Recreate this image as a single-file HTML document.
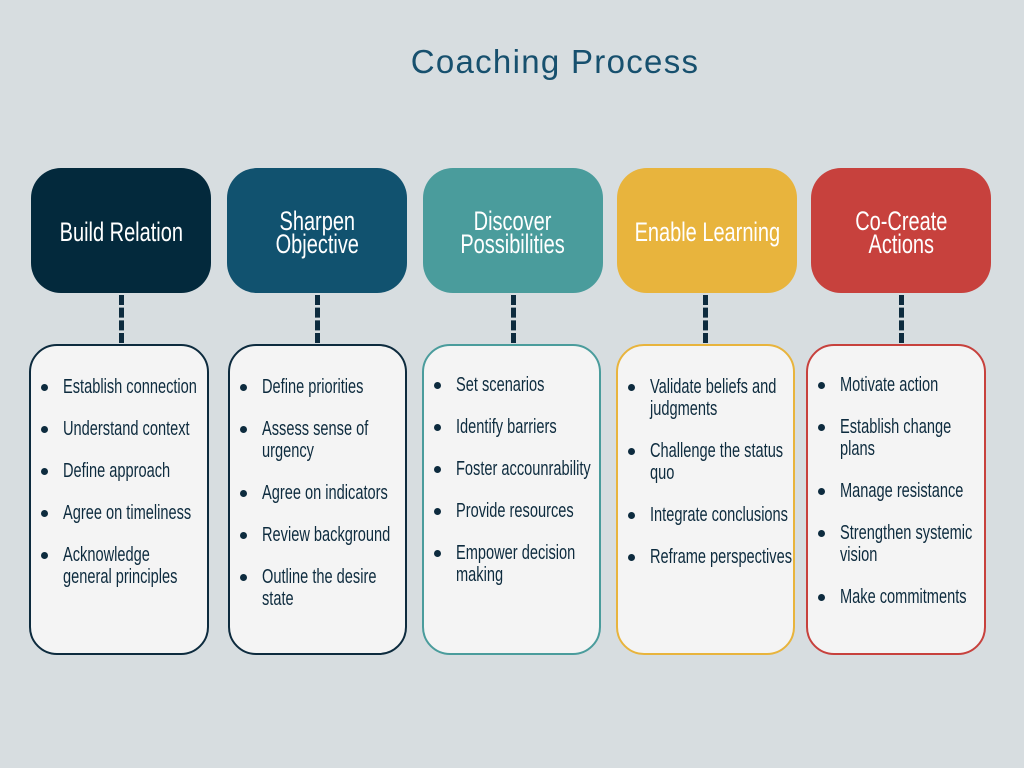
<!DOCTYPE html><html><head><style>
body{margin:0;width:1024px;height:768px;background:#d7dde0;position:relative;overflow:hidden;font-family:"Liberation Sans",sans-serif}
.t{position:absolute;left:0;width:1110px;text-align:center;top:43px;font:500 33px "Liberation Sans",sans-serif;color:#17506e;letter-spacing:1.3px}
.h{position:absolute;top:170px;width:180px;height:125px;border-radius:30px;color:#fff;display:flex;align-items:center;justify-content:center;text-align:center;font-size:27px;line-height:23px}
.h span{display:inline-block;transform:scaleX(0.74);white-space:nowrap}
.hb{position:absolute;top:168px;width:180px;height:125px;border-radius:30px}
.d{position:absolute;top:295px;width:0;height:48px;border-left:5px dashed #0d2b3e}
.c{position:absolute;top:344px;height:307px;border-radius:28px;background:#f4f4f4;border:2px solid}
.c ul{margin:0;padding:0;list-style:none;position:absolute;top:30px;left:10px;right:0}
.c li{position:relative;padding-left:22px;font-size:20px;line-height:22px;color:#0d2b3e;margin-bottom:20px;white-space:nowrap}
.c li span{display:inline-block;transform:scaleX(0.73);transform-origin:left}
.c li:before{content:"";position:absolute;left:0;top:8px;width:7px;height:7px;border-radius:50%;background:#0d2b3e}
</style></head><body>
<div class="t">Coaching Process</div>
<div class="hb" style="left:31px;background:#03293c"></div>
<div class="hb" style="left:227px;background:#11526f"></div>
<div class="hb" style="left:423px;background:#4a9c9c"></div>
<div class="hb" style="left:617px;background:#e8b43d"></div>
<div class="hb" style="left:811px;background:#c7413d"></div>
<div class="h" style="left:31px"><span>Build Relation</span></div>
<div class="h" style="left:227px"><span>Sharpen<br>Objective</span></div>
<div class="h" style="left:423px"><span>Discover<br>Possibilities</span></div>
<div class="h" style="left:617px"><span>Enable Learning</span></div>
<div class="h" style="left:811px"><span>Co-Create<br>Actions</span></div>
<div class="d" style="left:119px"></div><div class="d" style="left:315px"></div><div class="d" style="left:511px"></div><div class="d" style="left:703px"></div><div class="d" style="left:899px"></div>
<div class="c" style="left:29px;width:176px;border-color:#0d2b3e"><ul><li><span>Establish connection</span></li><li><span>Understand context</span></li><li><span>Define approach</span></li><li><span>Agree on timeliness</span></li><li><span>Acknowledge<br>general principles</span></li></ul></div>
<div class="c" style="left:228px;width:175px;border-color:#0d2b3e"><ul><li><span>Define priorities</span></li><li><span>Assess sense of<br>urgency</span></li><li><span>Agree on indicators</span></li><li><span>Review background</span></li><li><span>Outline the desire<br>state</span></li></ul></div>
<div class="c" style="left:422px;width:175px;border-color:#4a9c9c"><ul style="top:28px"><li><span>Set scenarios</span></li><li><span>Identify barriers</span></li><li><span>Foster accounrability</span></li><li><span>Provide resources</span></li><li><span>Empower decision<br>making</span></li></ul></div>
<div class="c" style="left:616px;width:175px;border-color:#e8b43d"><ul><li><span>Validate beliefs and<br>judgments</span></li><li><span>Challenge the status<br>quo</span></li><li><span>Integrate conclusions</span></li><li><span>Reframe perspectives</span></li></ul></div>
<div class="c" style="left:806px;width:176px;border-color:#c7413d"><ul style="top:28px"><li><span>Motivate action</span></li><li><span>Establish change<br>plans</span></li><li><span>Manage resistance</span></li><li><span>Strengthen systemic<br>vision</span></li><li><span>Make commitments</span></li></ul></div>
</body></html>
